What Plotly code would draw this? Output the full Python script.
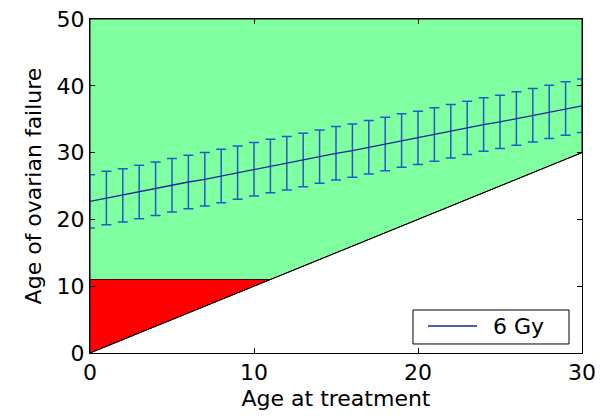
import plotly.graph_objects as go

# Age at treatment (years) and predicted age of ovarian failure for 6 Gy
age_at_treatment = list(range(0, 31))
failure_age = [22.7, 23.2, 23.6, 24.1, 24.6, 25.1, 25.6, 26.0, 26.5, 27.0,
               27.5, 28.0, 28.4, 28.9, 29.4, 29.9, 30.3, 30.8, 31.3, 31.8,
               32.2, 32.7, 33.2, 33.7, 34.2, 34.6, 35.1, 35.6, 36.1, 36.6, 37.0]
failure_err = [4.0] * 31
series_name = "6 Gy"

# Region boundaries
menarche_age = 11
age_min, age_max = 0, 30
failure_max = 50

font_family = "DejaVu Sans"
line_color = "#12289a"

fig = go.Figure()

# Green region: ovarian failure after treatment and after menarche
fig.add_trace(go.Scatter(
    x=[age_min, menarche_age, age_max, age_max, age_min, age_min],
    y=[menarche_age, menarche_age, age_max, failure_max, failure_max, menarche_age],
    mode="lines", fill="toself", fillcolor="#80FFA0",
    line=dict(color="black", width=1), showlegend=False, hoverinfo="skip"))

# Red region: ovarian failure before menarche
fig.add_trace(go.Scatter(
    x=[age_min, age_min, menarche_age, age_min],
    y=[age_min, menarche_age, menarche_age, age_min],
    mode="lines", fill="toself", fillcolor="#FF0000",
    line=dict(color="#400000", width=1), showlegend=False, hoverinfo="skip"))

# Diagonal: failure age equal to treatment age
fig.add_trace(go.Scatter(
    x=[age_min, age_max], y=[age_min, age_max],
    mode="lines", line=dict(color="black", width=1),
    showlegend=False, hoverinfo="skip"))

# Mean failure age with error bars
fig.add_trace(go.Scatter(
    x=age_at_treatment, y=failure_age, mode="lines", name=series_name,
    line=dict(color=line_color, width=1.3), showlegend=False,
    error_y=dict(type="data", array=failure_err, visible=True,
                 color="#1f5cc8", thickness=1.5, width=5)))

axis_common = dict(
    showgrid=False, zeroline=False, showline=True, linecolor="black",
    linewidth=1, mirror="ticks", ticks="inside", ticklen=5, automargin=False,
    tickcolor="black", tickfont=dict(family=font_family, size=22, color="black"),
)

# Legend box drawn in the lower right corner of the axes
legend_shapes = [
    dict(type="rect", xref="paper", yref="paper",
         x0=0.6565, x1=0.9736, y0=0.027, y1=0.1287,
         line=dict(color="black", width=1), fillcolor="white", layer="above"),
    dict(type="line", xref="paper", yref="paper",
         x0=0.687, x1=0.7866, y0=0.0808, y1=0.0808,
         line=dict(color=line_color, width=1.3), layer="above"),
]
legend_text = dict(
    xref="paper", yref="paper", x=0.815, y=0.0808,
    xanchor="left", yanchor="middle", text=series_name, showarrow=False,
    font=dict(family=font_family, size=22, color="black"))

fig.update_layout(
    width=600, height=418,
    margin=dict(l=90, r=18, t=19, b=65),
    paper_bgcolor="white", plot_bgcolor="white",
    font=dict(family=font_family, size=22, color="black"),
    showlegend=False,
    shapes=legend_shapes,
    annotations=[legend_text],
    xaxis=dict(range=[age_min, age_max], tickvals=[0, 10, 20, 30],
               title=dict(text="Age at treatment", standoff=6,
                          font=dict(family=font_family, size=22)),
               **axis_common),
    yaxis=dict(range=[0, failure_max], tickvals=[0, 10, 20, 30, 40, 50],
               title=dict(text="Age of ovarian failure", standoff=8,
                          font=dict(family=font_family, size=22)),
               **axis_common),
)

fig.write_html("out.html")
